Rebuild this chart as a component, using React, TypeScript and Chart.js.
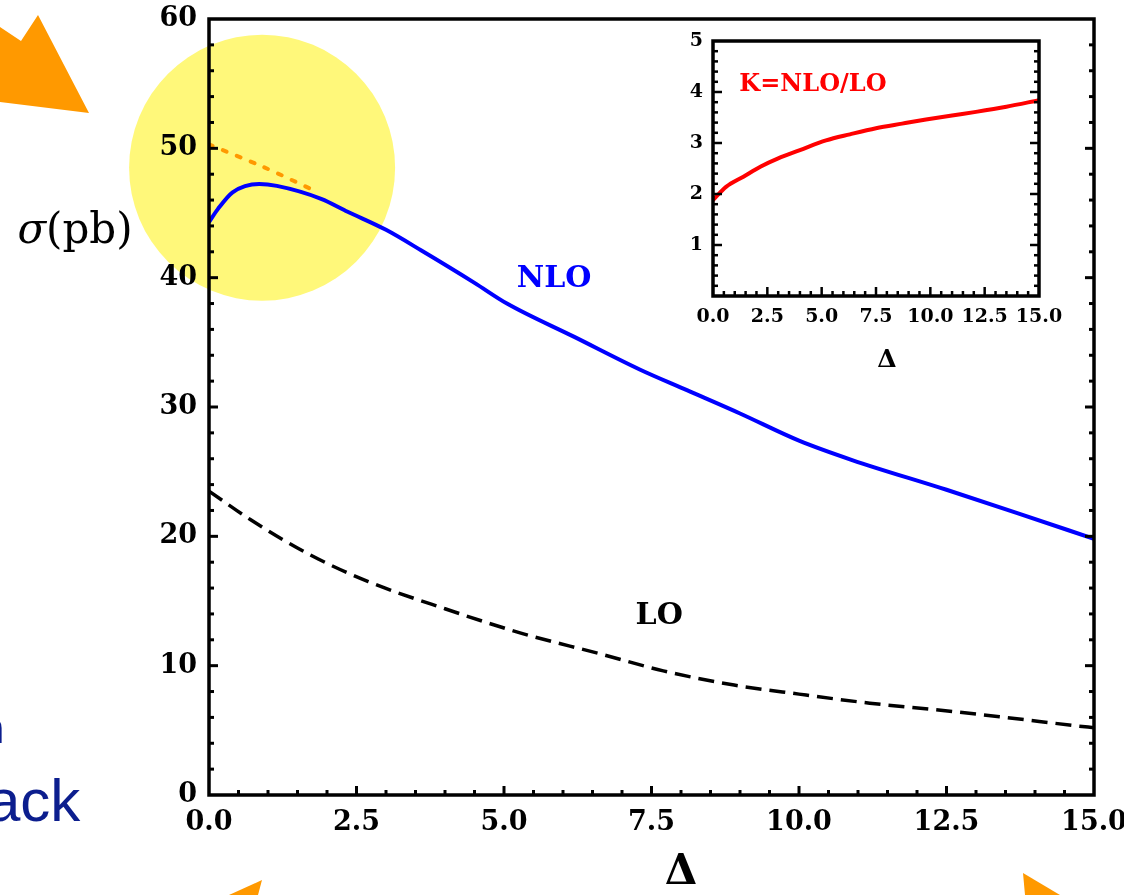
import React, { useEffect, useRef } from "react";
import { Chart, registerables } from "chart.js";

Chart.register(...registerables);

const SERIF = '"DejaVu Serif", serif';

// ---- main panel: σ(pb) versus Δ ----
const nloDelta = [0, 0.15, 0.4, 0.85, 1.15, 1.9, 2.35, 3.0, 3.6, 4.5, 5.05, 6.2, 7.3, 8.1, 9.0, 10.0, 10.9, 12.5, 13.7, 15];
const nloSigma = [44.3, 45.3, 46.6, 47.25, 47.1, 46.1, 45.1, 43.7, 42.1, 39.6, 38.0, 35.4, 32.9, 31.3, 29.5, 27.4, 25.9, 23.6, 21.8, 19.8];

const loDelta = [0, 0.7, 1.7, 2.7, 4.0, 5.3, 6.6, 7.7, 8.9, 10.0, 11.2, 12.3, 13.4, 14.7, 15];
const loSigma = [23.5, 21.3, 18.6, 16.5, 14.4, 12.5, 10.95, 9.6, 8.5, 7.8, 7.1, 6.6, 6.05, 5.35, 5.2];

const altDelta = [0, 0.9, 1.85];
const altSigma = [50.3, 48.6, 46.6];

const mainXTicks = [0, 2.5, 5, 7.5, 10, 12.5, 15];
const mainXLabels = ["0.0", "2.5", "5.0", "7.5", "10.0", "12.5", "15.0"];
const mainYTicks = [0, 10, 20, 30, 40, 50, 60];
const mainYLabels = ["0", "10", "20", "30", "40", "50", "60"];

// ---- inset: K = NLO/LO versus Δ ----
const kDelta = [0, 0.6, 1.4, 2.2, 3.0, 4.0, 5.2, 6.3, 7.5, 8.7, 9.8, 11.0, 12.1, 13.5, 15];
const kValue = [1.88, 2.14, 2.34, 2.54, 2.7, 2.86, 3.05, 3.17, 3.29, 3.38, 3.46, 3.54, 3.61, 3.71, 3.84];

const insetXTicks = [0, 2.5, 5, 7.5, 10, 12.5, 15];
const insetXLabels = ["0.0", "2.5", "5.0", "7.5", "10.0", "12.5", "15.0"];
const insetYTicks = [1, 2, 3, 4, 5];
const insetYLabels = ["1", "2", "3", "4", "5"];

const toPoints = (xs: number[], ys: number[]) => xs.map((x, i) => ({ x, y: ys[i] }));

// Boxed frame with inward major/minor ticks on left, bottom and right.
const frameTicks = {
  id: "frameTicks",
  afterDatasetsDraw(chart: any, _args: any, opts: any) {
    const { ctx, chartArea: a } = chart;
    const xs = chart.scales.x;
    const ys = chart.scales.y;
    const isMajor = (v: number, list: number[]) => list.some((t) => Math.abs(t - v) < 1e-6);
    const seg = (x1: number, y1: number, x2: number, y2: number) => {
      ctx.beginPath();
      ctx.moveTo(x1, y1);
      ctx.lineTo(x2, y2);
      ctx.stroke();
    };
    ctx.save();
    ctx.strokeStyle = "#000";
    ctx.lineWidth = opts.tickWidth;
    const nx = Math.round((xs.max - xs.min) / opts.xMinor);
    for (let i = 1; i < nx; i++) {
      const v = xs.min + i * opts.xMinor;
      const px = xs.getPixelForValue(v);
      const len = isMajor(v, opts.xMajor) ? opts.major : opts.minor;
      seg(px, a.bottom, px, a.bottom - len);
    }
    const ny = Math.round((ys.max - ys.min) / opts.yMinor);
    for (let i = 1; i < ny; i++) {
      const v = ys.min + i * opts.yMinor;
      const py = ys.getPixelForValue(v);
      const len = isMajor(v, opts.yMajor) ? opts.major : opts.minor;
      seg(a.left, py, a.left + len, py);
      seg(a.right, py, a.right - len, py);
    }
    ctx.lineWidth = opts.frameWidth;
    ctx.strokeRect(a.left, a.top, a.right - a.left, a.bottom - a.top);
    ctx.restore();
  },
};

// Yellow highlight disc drawn underneath everything else.
const highlight = {
  id: "highlight",
  beforeDraw(chart: any, _args: any, opts: any) {
    if (!opts || !opts.show) return;
    const { ctx } = chart;
    const cx = chart.scales.x.getPixelForValue(opts.x);
    const cy = chart.scales.y.getPixelForValue(opts.y);
    ctx.save();
    ctx.fillStyle = opts.color;
    ctx.beginPath();
    ctx.arc(cx, cy, opts.radius, 0, Math.PI * 2);
    ctx.fill();
    ctx.restore();
  },
};

// Free text labels placed by data value or by offset from the plot frame.
const textLabels = {
  id: "textLabels",
  afterDraw(chart: any, _args: any, opts: any) {
    const { ctx, chartArea: a } = chart;
    ctx.save();
    ctx.textBaseline = "middle";
    for (const item of opts.items || []) {
      const px = item.dx !== undefined ? a.left + item.dx : chart.scales.x.getPixelForValue(item.x);
      const py = item.below !== undefined ? a.bottom + item.below : chart.scales.y.getPixelForValue(item.y);
      const parts = item.parts || [{ text: item.text, font: item.font }];
      let total = 0;
      for (const p of parts) {
        ctx.font = p.font;
        total += ctx.measureText(p.text).width;
      }
      let cur = px - total / 2;
      ctx.fillStyle = item.color;
      ctx.textAlign = "left";
      for (const p of parts) {
        ctx.font = p.font;
        ctx.fillText(p.text, cur, py);
        cur += ctx.measureText(p.text).width;
      }
    }
    ctx.restore();
  },
};

function buildScales(cfg: any) {
  return {
    x: {
      type: "linear",
      min: cfg.xMin,
      max: cfg.xMax,
      grid: { display: false, drawTicks: false },
      border: { display: false },
      afterBuildTicks: (s: any) => {
        s.ticks = cfg.xTicks.map((v: number) => ({ value: v }));
      },
      afterFit: (s: any) => {
        s.height = cfg.xHeight;
        s.paddingLeft = 0;
        s.paddingRight = 0;
      },
      ticks: {
        autoSkip: false,
        maxRotation: 0,
        minRotation: 0,
        padding: cfg.xPad,
        color: "#000",
        font: { family: SERIF, size: cfg.tickSize, weight: "bold" },
        callback: (_v: any, i: number) => cfg.xLabels[i],
      },
    },
    y: {
      type: "linear",
      min: cfg.yMin,
      max: cfg.yMax,
      grid: { display: false, drawTicks: false },
      border: { display: false },
      afterBuildTicks: (s: any) => {
        s.ticks = cfg.yTicks.map((v: number) => ({ value: v }));
      },
      afterFit: (s: any) => {
        s.width = cfg.yWidth;
        s.paddingTop = 0;
        s.paddingBottom = 0;
      },
      ticks: {
        autoSkip: false,
        padding: cfg.yPad,
        color: "#000",
        font: { family: SERIF, size: cfg.tickSize, weight: "bold" },
        callback: (_v: any, i: number) => cfg.yLabels[i],
      },
    },
  };
}

export default function App() {
  const mainRef = useRef<HTMLCanvasElement | null>(null);
  const insetRef = useRef<HTMLCanvasElement | null>(null);

  useEffect(() => {
    if (!mainRef.current || !insetRef.current) return;

    const main = new Chart(mainRef.current, {
      type: "line",
      data: {
        datasets: [
          {
            label: "NLO",
            data: toPoints(nloDelta, nloSigma),
            borderColor: "#0000ff",
            borderWidth: 4,
            pointRadius: 0,
            cubicInterpolationMode: "monotone",
          },
          {
            label: "LO",
            data: toPoints(loDelta, loSigma),
            borderColor: "#000000",
            borderWidth: 3.5,
            borderDash: [16, 8],
            pointRadius: 0,
            cubicInterpolationMode: "monotone",
          },
          {
            label: "alt",
            data: toPoints(altDelta, altSigma),
            borderColor: "#ff9900",
            borderWidth: 4,
            borderDash: [4, 11],
            borderCapStyle: "round",
            pointRadius: 0,
            tension: 0.3,
          },
        ],
      },
      options: {
        animation: false,
        responsive: false,
        devicePixelRatio: 1,
        events: [],
        layout: { padding: { left: 0, top: 19, right: 30, bottom: 0 } },
        scales: buildScales({
          xMin: 0,
          xMax: 15,
          yMin: 0,
          yMax: 60,
          xTicks: mainXTicks,
          xLabels: mainXLabels,
          yTicks: mainYTicks,
          yLabels: mainYLabels,
          xHeight: 100,
          yWidth: 209,
          xPad: 12,
          yPad: 12,
          tickSize: 27,
        }) as any,
        plugins: {
          legend: { display: false },
          tooltip: { enabled: false },
          highlight: { show: true, x: 0.9, y: 48.5, radius: 133, color: "#fff87a" },
          frameTicks: {
            xMinor: 0.5,
            yMinor: 2,
            xMajor: mainXTicks,
            yMajor: mainYTicks,
            major: 9,
            minor: 5,
            tickWidth: 3,
            frameWidth: 3.5,
          },
          textLabels: {
            items: [
              { text: "NLO", x: 5.85, y: 39.9, font: `bold 30px ${SERIF}`, color: "#0000ff" },
              { text: "LO", x: 7.63, y: 13.8, font: `bold 30px ${SERIF}`, color: "#000000" },
              { text: "Δ", x: 8.0, below: 78, font: `bold 42px ${SERIF}`, color: "#000000" },
              {
                dx: -134,
                y: 43.5,
                color: "#000000",
                parts: [
                  { text: "σ", font: `italic 42px ${SERIF}` },
                  { text: "(pb)", font: `42px ${SERIF}` },
                ],
              },
            ],
          },
        } as any,
      },
      plugins: [highlight, frameTicks, textLabels],
    } as any);

    const inset = new Chart(insetRef.current, {
      type: "line",
      data: {
        datasets: [
          {
            label: "K",
            data: toPoints(kDelta, kValue),
            borderColor: "#ff0000",
            borderWidth: 4,
            pointRadius: 0,
            cubicInterpolationMode: "monotone",
          },
        ],
      },
      options: {
        animation: false,
        responsive: false,
        devicePixelRatio: 1,
        events: [],
        layout: { padding: { left: 0, top: 21, right: 41, bottom: 0 } },
        scales: buildScales({
          xMin: 0,
          xMax: 15,
          yMin: 0,
          yMax: 5,
          xTicks: insetXTicks,
          xLabels: insetXLabels,
          yTicks: insetYTicks,
          yLabels: insetYLabels,
          xHeight: 84,
          yWidth: 53,
          xPad: 10,
          yPad: 10,
          tickSize: 19,
        }) as any,
        plugins: {
          legend: { display: false },
          tooltip: { enabled: false },
          frameTicks: {
            xMinor: 0.5,
            yMinor: 0.2,
            xMajor: insetXTicks,
            yMajor: insetYTicks,
            major: 9,
            minor: 5,
            tickWidth: 2.5,
            frameWidth: 3.5,
          },
          textLabels: {
            items: [
              { text: "K=NLO/LO", x: 4.6, y: 4.14, font: `bold 24px ${SERIF}`, color: "#ff0000" },
              { text: "Δ", x: 8.0, below: 64, font: `bold 25px ${SERIF}`, color: "#000000" },
            ],
          },
        } as any,
      },
      plugins: [frameTicks, textLabels],
    } as any);

    return () => {
      main.destroy();
      inset.destroy();
    };
  }, []);

  return (
    <div
      style={{
        position: "fixed",
        left: 0,
        top: 0,
        width: 1124,
        height: 895,
        overflow: "hidden",
        background: "#ffffff",
      }}
    >
      <canvas ref={mainRef} width={1124} height={895} style={{ position: "absolute", left: 0, top: 0 }} />
      <canvas ref={insetRef} width={420} height={360} style={{ position: "absolute", left: 660, top: 20 }} />
      <svg width={1124} height={895} style={{ position: "absolute", left: 0, top: 0, pointerEvents: "none" }}>
        <polygon points="0,27 21,41 38,15 89,113 0,102" fill="#ff9900" />
        <polygon points="262,880 258,895 229,895" fill="#ff9900" />
        <polygon points="1023,873 1060,895 1025,895" fill="#ff9900" />
      </svg>
      <span
        style={{
          position: "absolute",
          left: -19,
          top: 708,
          fontFamily: '"Liberation Sans", Arial, sans-serif',
          fontSize: 42,
          lineHeight: 1,
          color: "#0c1e8e",
          whiteSpace: "nowrap",
        }}
      >
        n
      </span>
      <span
        style={{
          position: "absolute",
          left: -13,
          top: 771,
          fontFamily: '"Liberation Sans", Arial, sans-serif',
          fontSize: 60,
          lineHeight: 1,
          color: "#0c1e8e",
          whiteSpace: "nowrap",
        }}
      >
        ack
      </span>
    </div>
  );
}
